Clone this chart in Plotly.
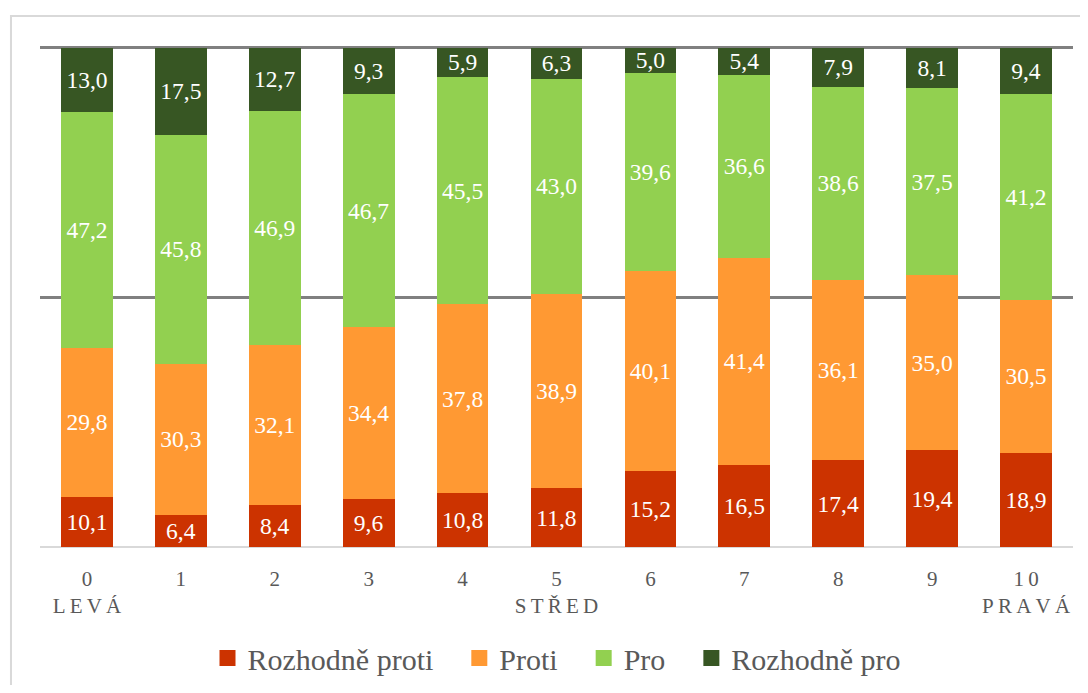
import plotly.graph_objects as go

T = "\u2009"
categories = ["0<br>" + T.join("LEVÁ"), "1", "2", "3", "4", "5<br>" + T.join("STŘED"),
              "6", "7", "8", "9", "1" + T + "0<br>" + T.join("PRAVÁ")]
rozhodne_proti = [10.1, 6.4, 8.4, 9.6, 10.8, 11.8, 15.2, 16.5, 17.4, 19.4, 18.9]
proti = [29.8, 30.3, 32.1, 34.4, 37.8, 38.9, 40.1, 41.4, 36.1, 35.0, 30.5]
pro = [47.2, 45.8, 46.9, 46.7, 45.5, 43.0, 39.6, 36.6, 38.6, 37.5, 41.2]
rozhodne_pro = [13.0, 17.5, 12.7, 9.3, 5.9, 6.3, 5.0, 5.4, 7.9, 8.1, 9.4]

series = [
    ("Rozhodně proti", rozhodne_proti, "#CC3300"),
    ("Proti", proti, "#FF9933"),
    ("Pro", pro, "#92D050"),
    ("Rozhodně pro", rozhodne_pro, "#375623"),
]

FONT = "Liberation Serif"
xs = list(range(len(categories)))
PAD = "\u2002\u2009"

fig = go.Figure()
for name, vals, color in series:
    fig.add_trace(go.Bar(
        x=xs, y=vals, name=name, showlegend=False,
        marker=dict(color=color, line=dict(width=0)),
        text=[f"{v:.1f}".replace(".", ",") for v in vals],
        textposition="inside", insidetextanchor="middle",
        textfont=dict(color="white", size=23.5, family=FONT),
        constraintext="none",
    ))
for i, (name, vals, color) in enumerate(series):
    fig.add_trace(go.Scatter(
        x=[None], y=[None], mode="markers",
        name=name + (PAD if i < len(series) - 1 else ""),
        marker=dict(symbol="square", size=16, color=color),
    ))

W, H = 1072, 677
fig.update_layout(
    barmode="stack", barnorm="percent", bargap=0.45,
    width=W, height=H,
    margin=dict(l=32, r=7, t=37, b=138),
    paper_bgcolor="white", plot_bgcolor="white",
    font=dict(family=FONT, color="#595959", size=20),
    showlegend=True,
    legend=dict(orientation="h", x=0.5, xanchor="center", xref="paper",
                yref="container", y=1 - 650 / H, yanchor="middle",
                font=dict(size=30, color="#595959", family=FONT), traceorder="normal",
                itemwidth=30),
    xaxis=dict(tickmode="array", tickvals=xs, ticktext=categories, showgrid=False,
               showline=False, zeroline=False, ticks="", range=[-0.5, 10.5],
               ticklabelstandoff=17, automargin=False,
               tickfont=dict(size=21, color="#595959", family=FONT)),
    yaxis=dict(range=[0, 100.5], tickvals=[50, 100], showticklabels=False, showgrid=True,
               gridcolor="#808080", gridwidth=3, zeroline=True, zerolinecolor="#d9d9d9",
               zerolinewidth=2, showline=False, automargin=False),
    shapes=[
        dict(type="path", xref="paper", yref="paper",
             path="M -0.0281,-0.6 L -0.0281,1.0578 L 1.05,1.0578",
             line=dict(color="#d9d9d9", width=2)),
    ],
)

fig.write_html("out.html")
